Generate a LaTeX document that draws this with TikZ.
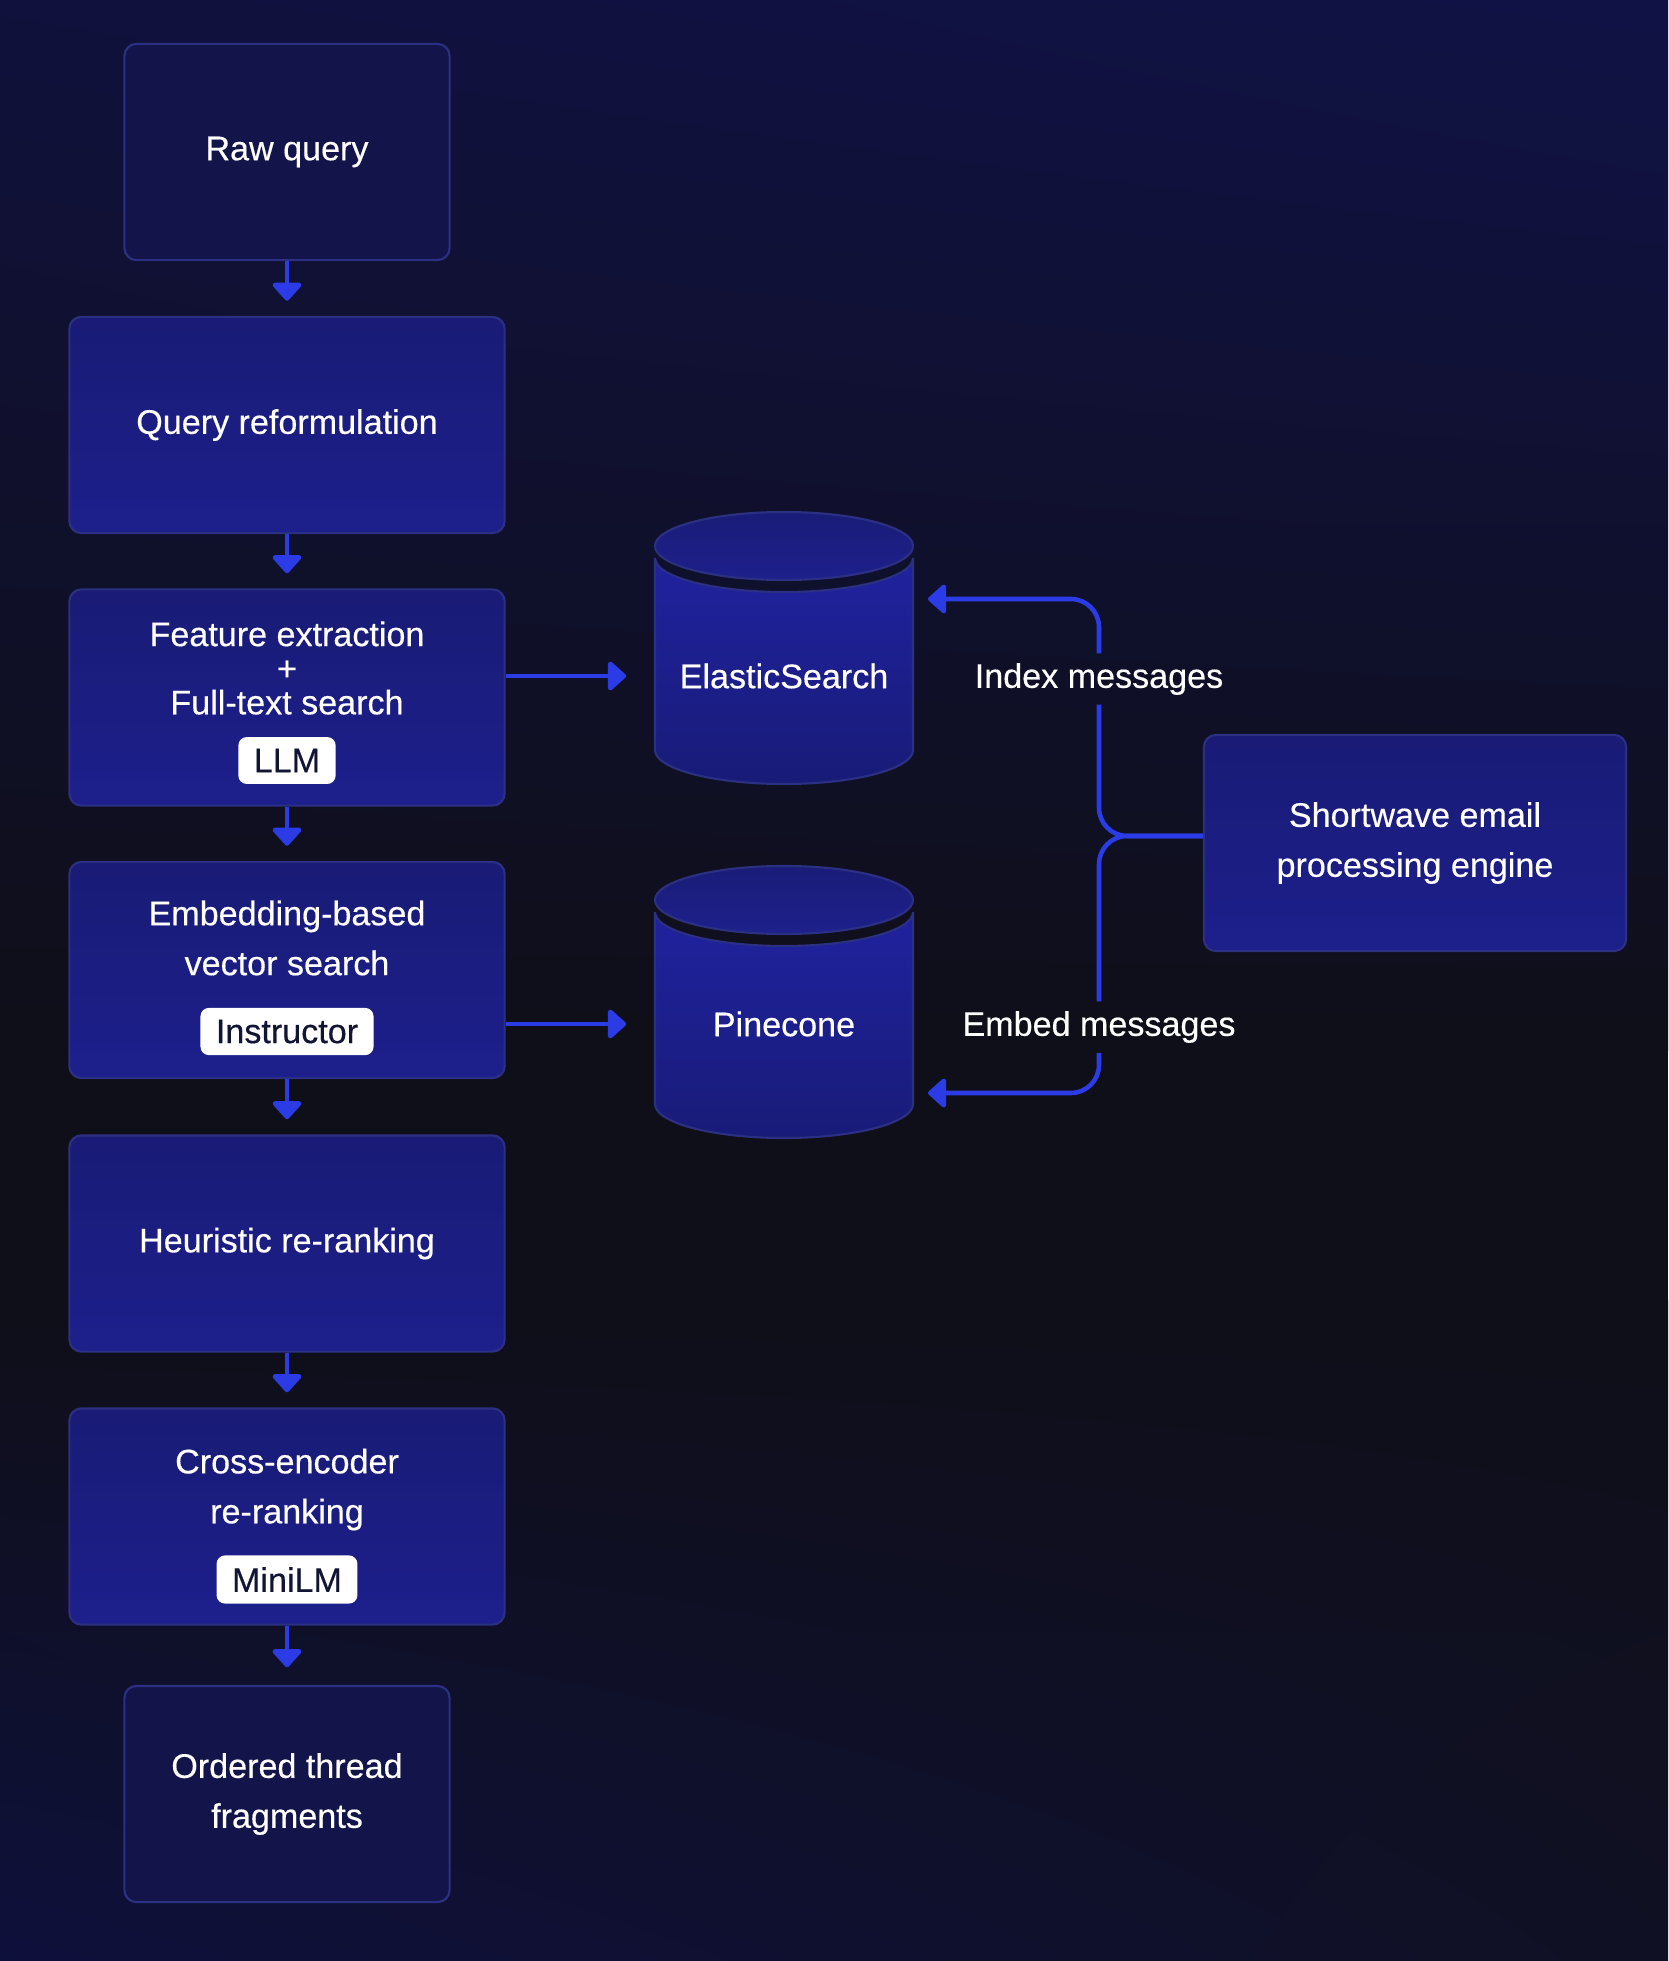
\documentclass[tikz,border=0pt]{standalone}
\usepackage{fontspec}
\setmainfont{Liberation Sans}
\newfontfamily\uimedium{Liberation Sans}[FakeBold=0.4]
\usetikzlibrary{arrows.meta,shadings}

\definecolor{bgtl}{RGB}{16,17,60}
\definecolor{bgtr}{RGB}{16,18,70}
\definecolor{bgmid}{RGB}{15,15,25}
\definecolor{bgbl}{RGB}{14,16,60}
\definecolor{bgbr}{RGB}{16,16,36}
\definecolor{flowblue}{RGB}{43,60,230}
\definecolor{boxdark}{RGB}{19,20,74}
\definecolor{boxline}{RGB}{44,48,130}
\definecolor{boxtop}{RGB}{25,27,118}
\definecolor{boxbot}{RGB}{29,31,140}
\definecolor{cyltop}{RGB}{31,34,158}
\definecolor{cylbot}{RGB}{25,27,120}
\definecolor{captop}{RGB}{26,28,120}
\definecolor{capbot}{RGB}{30,32,140}
\definecolor{pilltext}{RGB}{18,20,52}

\tikzset{
    uifont/.style={font=\uimedium\fontsize{9.7}{14.2}\selectfont},
    base/.style={uifont, rounded corners=3.4pt, line width=0.6pt, draw=boxline, text=white, align=center, minimum height=2.16cm},
    endbox/.style={base, fill=boxdark, minimum width=3.25cm},
    stage/.style={base, top color=boxtop, bottom color=boxbot, minimum width=4.35cm},
    txt/.style={uifont, text=white, align=center, inner sep=0pt},
    pill/.style={uifont, fill=white, text=pilltext, rounded corners=2.4pt, inner xsep=4.4pt, minimum height=11.7pt},
    lbl/.style={uifont, text=white, inner xsep=0pt, inner ysep=2.6pt},
    dbtext/.style={uifont, text=white, minimum width=2.58cm, inner sep=0pt},
    cylbody/.style={draw=boxline, line width=0.6pt, top color=cyltop, bottom color=cylbot},
    cylcap/.style={draw=boxline, line width=0.6pt, top color=captop, bottom color=capbot},
    flowline/.style={draw=flowblue, line width=1.3pt, rounded corners=8pt},
    flow/.style={flowline, -{Triangle[width=9.5pt,length=5.5pt,round]}}
}

\begin{document}
\begin{tikzpicture}[x=0.01cm,y=-0.01cm]
    \useasboundingbox (0,0) rectangle (1668,1961);
    % 背景：上下两端偏蓝，中间偏黑
    \fill[bgmid] (0,0) rectangle (1668,1961);
    \shade[upper left=bgtl, upper right=bgtr, lower left=bgmid, lower right=bgmid] (0,0) rectangle (1668,1050);
    \shade[upper left=bgmid, upper right=bgmid, lower left=bgbl, lower right=bgbr] (0,1300) rectangle (1668,1961);

    % 左列：检索流程
    \node[endbox] (raw) at (287,152) {Raw query};
    \node[stage] (reform) at (287,425) {Query reformulation};
    \node[stage] (feat) at (287,697.5) {};
    \node[txt] (feat-t) at (287,668) {Feature extraction\\[-4.5pt]+\\[-4.5pt]Full-text search};
    \node[pill] (llm) at (287,760.5) {LLM};
    \node[stage] (embed) at (287,970) {};
    \node[txt] (embed-t) at (287,938) {Embedding-based\\vector search};
    \node[pill] (instr) at (287,1031.5) {Instructor};
    \node[stage] (heur) at (287,1243.5) {Heuristic re-ranking};
    \node[stage] (cross) at (287,1516.5) {};
    \node[txt] (cross-t) at (287,1489.5) {Cross-encoder\\re-ranking};
    \node[pill] (minilm) at (287,1579.5) {MiniLM};
    \node[endbox] (ordered) at (287,1794) {Ordered thread\\fragments};

    \draw[flow] (raw.south)--([yshift=4.3pt]reform.north);
    \draw[flow] (reform.south)--([yshift=4.3pt]feat.north);
    \draw[flow] (feat.south)--([yshift=4.3pt]embed.north);
    \draw[flow] (embed.south)--([yshift=4.3pt]heur.north);
    \draw[flow] (heur.south)--([yshift=4.3pt]cross.north);
    \draw[flow] (cross.south)--([yshift=5pt]ordered.north);

    % 数据库圆柱：先画柱身，再画顶盖
    \foreach \t in {512,866}{
        \filldraw[cylbody] (655,\t+46)--(655,\t+238) arc(180:0:129 and 34)--(913,\t+46) arc(0:180:129 and 34)--cycle;
        \filldraw[cylcap] (784,\t+34) ellipse(129 and 34);
    }
    \node[dbtext] (es) at (784,676) {ElasticSearch};
    \node[dbtext] (pc) at (784,1024) {Pinecone};

    \draw[flow] (feat.east |- es.west)--([xshift=-8pt]es.west);
    \draw[flow] (embed.east |- pc.west)--([xshift=-8pt]pc.west);

    % 右侧：邮件处理引擎
    \node[stage, minimum width=4.22cm] (engine) at (1415,843) {Shortwave email\\processing engine};
    \node[lbl] (idx) at (1099,679) {Index messages};
    \node[lbl] (emb) at (1099,1027) {Embed messages};
    \coordinate (es-in) at (928,599);
    \coordinate (pc-in) at (928,1093);

    \draw[flowline] ([yshift=2pt]engine.west) -| (idx.south);
    \draw[flow] (idx.north) |- (es-in);
    \draw[flowline] ([yshift=2pt]engine.west) -| (emb.north);
    \draw[flow] (emb.south) |- (pc-in);
\end{tikzpicture}
\end{document}
